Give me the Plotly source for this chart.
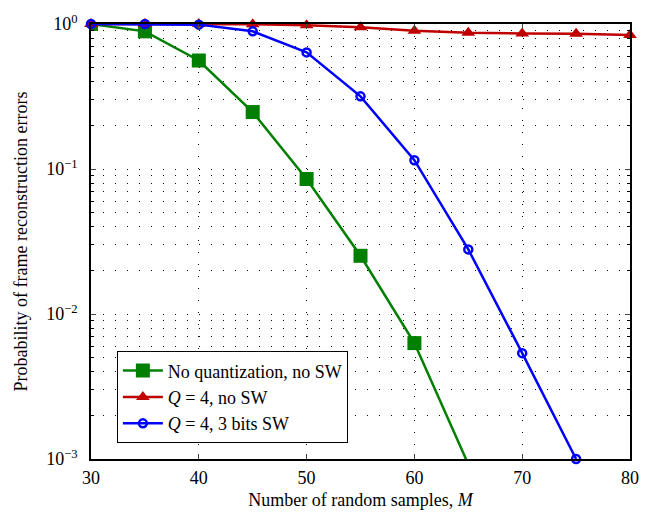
import plotly.graph_objects as go

M = [30, 35, 40, 45, 50, 55, 60, 65, 70, 75, 80]
no_quant = [1.0, 0.89, 0.56, 0.247, 0.0853, 0.0252, 0.0063, 0.00092]
q4_no_sw = [1.0, 1.0, 1.0, 0.995, 0.98, 0.95, 0.90, 0.87, 0.86, 0.855, 0.84]
q4_3bits = [1.0, 1.0, 0.99, 0.89, 0.637, 0.317, 0.115, 0.0279, 0.00537, 0.001]

names = ["No quantization, no SW", "<i>Q</i> = 4, no SW", "<i>Q</i> = 4, 3 bits SW"]
y_tickvals = [1e-3, 1e-2, 1e-1, 1]
y_ticktext = ["10<sup>\u22123</sup>", "10<sup>\u22122</sup>", "10<sup>\u22121</sup>", "10<sup>0</sup>"]
x_tickvals = [30, 40, 50, 60, 70, 80]

FONT = "Liberation Serif"
GRID = "rgba(0,0,0,0.95)"
DASH = "1px,11px"

fig = go.Figure()
fig.add_trace(go.Scatter(
    x=M[:len(no_quant)], y=no_quant, name=names[0], mode="lines+markers",
    line=dict(color="#007F00", width=2.5),
    marker=dict(symbol="square", size=14, color="#007F00"),
    cliponaxis=True))
fig.add_trace(go.Scatter(
    x=M[:len(q4_no_sw)], y=q4_no_sw, name=names[1], mode="lines+markers",
    line=dict(color="#C00000", width=2.5),
    marker=dict(symbol="triangle-up", size=12, color="#C00000"),
    cliponaxis=False))
fig.add_trace(go.Scatter(
    x=M[:len(q4_3bits)], y=q4_3bits, name=names[2], mode="lines+markers",
    line=dict(color="#0000FF", width=2.5),
    marker=dict(symbol="circle-open", size=8, color="#0000FF", line=dict(width=2.5, color="#0000FF")),
    cliponaxis=False))

fig.update_layout(
    width=652, height=519,
    margin=dict(l=91, r=22, t=14, b=56),
    paper_bgcolor="white", plot_bgcolor="white",
    font=dict(family=FONT, size=18, color="black"),
    showlegend=True,
    legend=dict(x=0.048, y=0.036, xanchor="left", yanchor="bottom",
                bgcolor="white", bordercolor="black", borderwidth=1,
                font=dict(family=FONT, size=18), itemwidth=40,
                tracegroupgap=0),
)
fig.update_xaxes(
    range=[30, 80], tickvals=x_tickvals, ticks="inside", ticklen=5,
    showline=True, linecolor="black", linewidth=1.5, mirror="allticks",
    showgrid=True, gridcolor=GRID, griddash=DASH, gridwidth=1,
    zeroline=False, tickfont=dict(family=FONT, size=18), ticklabelstandoff=2,
    title=dict(text="Number of random samples, <i>M</i>", font=dict(family=FONT, size=18), standoff=6),
)
minor_vals = [k * 10 ** d for d in (-3, -2, -1) for k in range(2, 10)]
fig.update_yaxes(
    type="log", range=[-3, 0], tickvals=y_tickvals, ticktext=y_ticktext,
    ticks="inside", ticklen=5,
    showline=True, linecolor="black", linewidth=1.5, mirror="allticks",
    showgrid=True, gridcolor=GRID, griddash=DASH, gridwidth=1,
    minor=dict(tickvals=minor_vals, ticks="inside", ticklen=3, tickcolor="black",
               showgrid=True, gridcolor=GRID, griddash=DASH, gridwidth=1),
    zeroline=False, tickfont=dict(family=FONT, size=18), ticklabelstandoff=8,
    title=dict(text="Probability of frame reconstruction errors", font=dict(family=FONT, size=18), standoff=14),
)

fig.write_html("out.html")
